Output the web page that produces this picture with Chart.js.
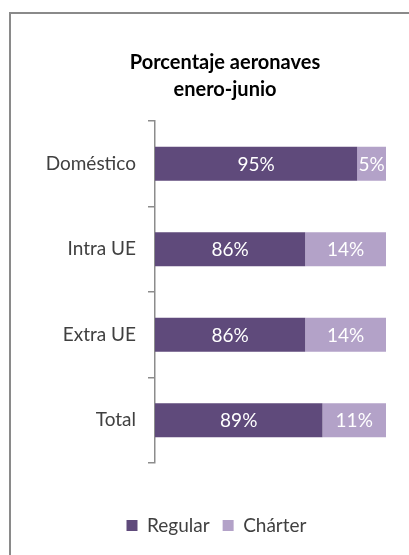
<!DOCTYPE html>
<html>
<head>
<meta charset="utf-8">
<script src="https://cdn.jsdelivr.net/npm/chart.js@4/dist/chart.umd.min.js"></script>
<style>
  html, body { margin: 0; padding: 0; background: #fff; }
  #wrap { width: 409px; height: 555px; }
</style>
</head>
<body>
<div id="wrap"><canvas id="chart" width="409" height="555"></canvas></div>
<script>
const categories = ["Doméstico", "Intra UE", "Extra UE", "Total"];
const regular = [95, 86, 86, 89];
const charter = [5, 14, 14, 11];
const seriesNames = ["Regular", "Chárter"];
const titleLines = ["Porcentaje aeronaves", "enero-junio"];

const FONT = "Lato, 'Open Sans', sans-serif";

// outer frame like the spreadsheet chart area (cut off on right and bottom)
const framePlugin = {
  id: "frame",
  beforeDraw(chart) {
    const ctx = chart.ctx;
    ctx.save();
    ctx.fillStyle = "#fff";
    ctx.fillRect(0, 0, chart.width, chart.height);
    ctx.strokeStyle = "#8a8a8a";
    ctx.lineWidth = 2;
    ctx.strokeRect(10, 13, 430, 580);
    ctx.restore();
  },
};

// title and legend are centred on the whole frame, not on the plot
const centreBoxes = {
  id: "centreBoxes",
  afterLayout(chart) {
    if (chart.titleBlock) chart.titleBlock.left = 64;
    if (chart.legend) chart.legend.left = 47;
  },
};

// percentage labels centred in each segment
const barLabels = {
  id: "barLabels",
  afterDatasetsDraw(chart) {
    const ctx = chart.ctx;
    const left = chart.chartArea.left;
    ctx.save();
    ctx.font = `19px ${FONT}`;
    ctx.textAlign = "center";
    ctx.textBaseline = "middle";
    ctx.fillStyle = "#ffffff";
    chart.data.datasets.forEach((ds, i) => {
      chart.getDatasetMeta(i).data.forEach((bar, j) => {
        const start = Math.max(bar.base, left);
        const cx = (start + bar.x) / 2;
        ctx.fillText(`${ds.data[j]}%`, cx, bar.y + 1);
      });
    });
    ctx.restore();
  },
};

new Chart(document.getElementById("chart"), {
  type: "bar",
  data: {
    labels: categories,
    datasets: [
      {
        label: seriesNames[0],
        data: regular,
        backgroundColor: "#5f4a7b",
        barPercentage: 0.4,
        categoryPercentage: 1,
      },
      {
        label: seriesNames[1],
        data: charter,
        backgroundColor: "#b3a2c8",
        barPercentage: 0.4,
        categoryPercentage: 1,
      },
    ],
  },
  plugins: [framePlugin, centreBoxes, barLabels],
  options: {
    indexAxis: "y",
    responsive: false,
    animation: false,
    devicePixelRatio: 1,
    layout: { padding: { left: 10, right: 23, top: 0, bottom: 10 } },
    scales: {
      x: {
        stacked: true,
        min: 60,
        max: 100,
        grid: { display: false },
        border: { display: false },
        ticks: { display: false },
        afterFit: (s) => { s.height = 40; },
      },
      y: {
        stacked: true,
        grid: {
          offset: true,
          drawOnChartArea: false,
          drawTicks: true,
          tickLength: 7,
          color: "#8c8c8c",
          lineWidth: 1.5,
        },
        border: { display: true, color: "#8c8c8c", width: 1.5 },
        ticks: {
          padding: 12,
          color: "#404040",
          font: { family: FONT, size: 19 },
        },
        afterFit: (s) => { s.width = 145; },
      },
    },
    plugins: {
      title: {
        display: true,
        text: titleLines,
        color: "#000",
        font: { family: FONT, size: 20, weight: "bold", lineHeight: 1.35 },
        padding: { top: 49, bottom: 18 },
      },
      legend: {
        position: "bottom",
        labels: {
          boxWidth: 11,
          boxHeight: 11,
          padding: 13,
          color: "#404040",
          font: { family: FONT, size: 19 },
        },
      },
      tooltip: { enabled: false },
    },
  },
});
</script>
</body>
</html>
